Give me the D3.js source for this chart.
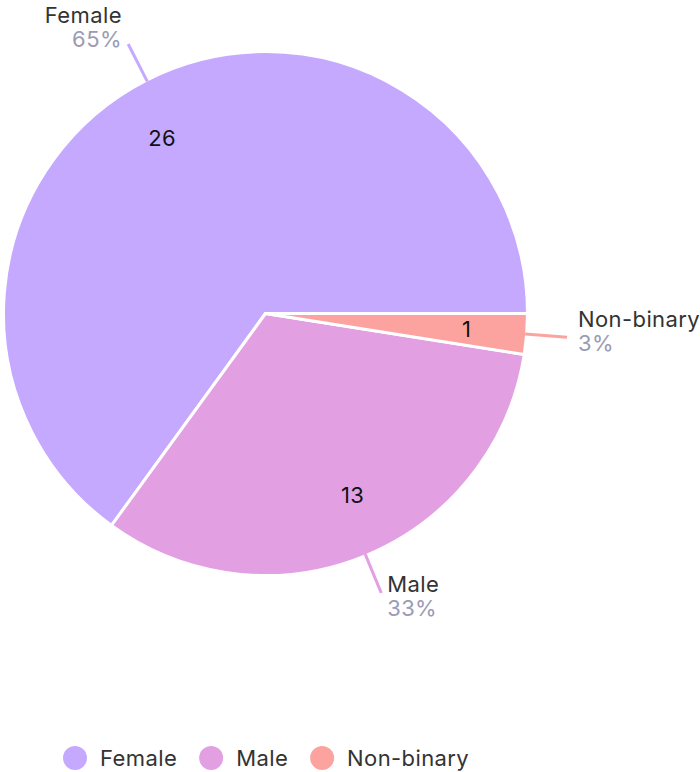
<!DOCTYPE html>
<html>
<head>
<meta charset="utf-8">
<script src="https://cdn.jsdelivr.net/npm/d3@7"></script>
<style>
  body { margin: 0; background: #fff; }
  svg { font-family: Inter, "Noto Sans", sans-serif; }
</style>
</head>
<body>
<svg id="chart" width="700" height="772"></svg>
<script>
// data
var categories = ["Female", "Male", "Non-binary"];
var counts = [26, 13, 1];
var colors = ["#c5a9ff", "#e2a0e2", "#fca3a0"];

var width = 700, height = 772;
var cx = 265.5, cy = 313.5;
var radius = 262;
var total = d3.sum(counts);

var svg = d3.select("#chart");
var g = svg.append("g").attr("transform", "translate(" + cx + "," + cy + ")");

var rows = categories.map(function (c, i) {
  return { name: c, value: counts[i], color: colors[i] };
});

// slices go counter-clockwise from 3 o'clock
var pie = d3.pie()
  .sort(null)
  .value(function (d) { return d.value; })
  .startAngle(Math.PI / 2)
  .endAngle(Math.PI / 2 - 2 * Math.PI);

var arc = d3.arc().innerRadius(0).outerRadius(radius);
var arcs = pie(rows);

g.selectAll("path.slice")
  .data(arcs)
  .enter().append("path")
  .attr("class", "slice")
  .attr("d", arc)
  .attr("fill", function (d) { return d.data.color; })
  .attr("stroke", "#fff")
  .attr("stroke-width", 3)
  .attr("stroke-linejoin", "round");

function mid(d) { return (d.startAngle + d.endAngle) / 2; }
function pt(a, r) { return [r * Math.sin(a), -r * Math.cos(a)]; }

// values inside the slices
g.selectAll("text.count")
  .data(arcs)
  .enter().append("text")
  .attr("class", "count")
  .attr("x", function (d) { return pt(mid(d), radius * 0.752)[0]; })
  .attr("y", function (d) { return pt(mid(d), radius * 0.752)[1]; })
  .attr("dy", "0.36em")
  .attr("text-anchor", function (d) { return Math.sin(mid(d)) < 0 ? "end" : "start"; })
  .style("font-size", "22px")
  .style("letter-spacing", "0.4px")
  .style("fill", "#111")
  .text(function (d) { return d.data.value; });

// connector lines
var rIn = radius - 1.5, rOut = radius + 40.5;
g.selectAll("line.conn")
  .data(arcs)
  .enter().append("line")
  .attr("class", "conn")
  .attr("x1", function (d) { return pt(mid(d), rIn)[0]; })
  .attr("y1", function (d) { return pt(mid(d), rIn)[1]; })
  .attr("x2", function (d) { return pt(mid(d), rOut)[0]; })
  .attr("y2", function (d) { return pt(mid(d), rOut)[1]; })
  .attr("stroke", function (d) { return d.data.color; })
  .attr("stroke-width", 3);

// outer labels: name + percent
var labels = g.selectAll("g.label")
  .data(arcs)
  .enter().append("g")
  .attr("class", "label")
  .attr("transform", function (d) {
    var a = mid(d), p = pt(a, rOut);
    var s = Math.sin(a);
    var x = p[0] + (s < 0 ? -1 : 1) * (5 + 6 * s * s);
    var y = p[1] + 1 - 11 * Math.cos(a);
    return "translate(" + x + "," + y + ")";
  })
  .attr("text-anchor", function (d) { return Math.sin(mid(d)) < 0 ? "end" : "start"; });

labels.append("text")
  .attr("y", -12)
  .style("font-size", "22px")
  .style("letter-spacing", "0.4px")
  .style("fill", "#333")
  .text(function (d) { return d.data.name; });

labels.append("text")
  .attr("y", 11.5)
  .style("font-size", "22px")
  .style("letter-spacing", "0.4px")
  .style("fill", "#9b9bb5")
  .text(function (d) { return Math.round(d.data.value / total * 100) + "%"; });

// legend
var legend = svg.append("g").attr("transform", "translate(63,758)");
var lx = 0;
rows.forEach(function (d) {
  var item = legend.append("g").attr("transform", "translate(" + lx + ",0)");
  item.append("circle")
    .attr("cx", 12).attr("cy", 0).attr("r", 12)
    .attr("fill", d.color);
  var t = item.append("text")
    .attr("x", 37).attr("y", 8)
    .style("font-size", "22px")
    .style("letter-spacing", "0.4px")
    .style("fill", "#333")
    .text(d.name);
  lx += 37 + t.node().getComputedTextLength() + 22;
});
</script>
</body>
</html>
